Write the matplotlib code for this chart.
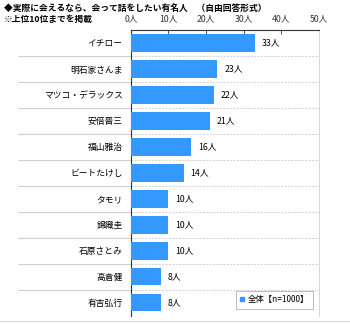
import matplotlib
matplotlib.use('Agg')
from matplotlib import pyplot as plt
from matplotlib.lines import Line2D
import numpy as np

plt.rcParams['font.family'] = ['Noto Sans CJK JP', 'DejaVu Sans']

# Data
names = ['イチロー', '明石家さんま', 'マツコ・デラックス', '安倍晋三', '福山雅治',
         'ビートたけし', 'タモリ', '錦織圭', '石原さとみ', '高倉健', '有吉弘行']
counts = [33, 23, 22, 21, 16, 14, 10, 10, 10, 8, 8]
ticks = [0, 10, 20, 30, 40, 50]

bar_color = '#3399ff'

fig = plt.figure(figsize=(3.5, 3.24), dpi=100)
ax = fig.add_axes([0.374, 0.026, 0.537, 0.881])

y = np.arange(len(names))
ax.barh(y, counts, height=0.68, color=bar_color, zorder=3)
ax.set_ylim(len(names) - 0.5, -0.5)
ax.set_xlim(0, 50)

# value labels
for i in range(len(counts)):
    ax.annotate(str(counts[i]) + '人', xy=(counts[i], y[i]), xytext=(5, 0),
                textcoords='offset points', va='center', ha='left', fontsize=6.3)

# separators: dashed inside plot, solid on the label side
for k in range(1, len(names)):
    ax.axhline(k - 0.5, color='#d0d0d0', lw=0.7, ls=(0, (2, 1.5)), zorder=1)
    ax.plot([-0.6, 0], [k - 0.5, k - 0.5], transform=ax.get_yaxis_transform(),
            color='#d0d0d0', lw=0.8, clip_on=False)

# axes styling
ax.xaxis.tick_top()
ax.set_xticks(ticks)
ax.set_xticklabels([str(t) + '人' for t in ticks], fontsize=6.3)
ax.tick_params(axis='x', direction='in', length=3, width=0.6, pad=5, colors='#333333')
ax.set_yticks(y)
ax.set_yticklabels(names, fontsize=6.3)
ax.tick_params(axis='y', length=0, pad=6)
ax.spines['top'].set_color('#333333')
ax.spines['left'].set_color('#333333')
ax.spines['top'].set_linewidth(0.8)
ax.spines['left'].set_linewidth(0.8)
ax.spines['right'].set_color('#d8d8d8')
ax.spines['bottom'].set_visible(False)

# legend
handle = Line2D([], [], marker='s', color=bar_color, ls='none', markersize=3)
leg = ax.legend([handle], ['全体【n=1000】'], loc='lower right', fontsize=6,
                frameon=True, fancybox=False, handlelength=0.6, handletextpad=0.3,
                borderpad=0.5, bbox_to_anchor=(0.99, 0.01))
leg.get_frame().set_edgecolor('#aaaaaa')
leg.get_frame().set_linewidth(0.7)

# titles
fig.text(0.01, 0.975, '◆実際に会えるなら、会って話をしたい有名人　（自由回答形式）',
         fontsize=6.3, ha='left', va='center', fontweight='bold')
fig.text(0.01, 0.94, '※上位10位までを掲載', fontsize=6.3, ha='left', va='center',
         fontweight='bold')

# bottom frame line
fig.add_artist(Line2D([0, 1], [0.008, 0.008], color='#d8d8d8', lw=0.8))

plt.savefig('out.png', dpi=100)
